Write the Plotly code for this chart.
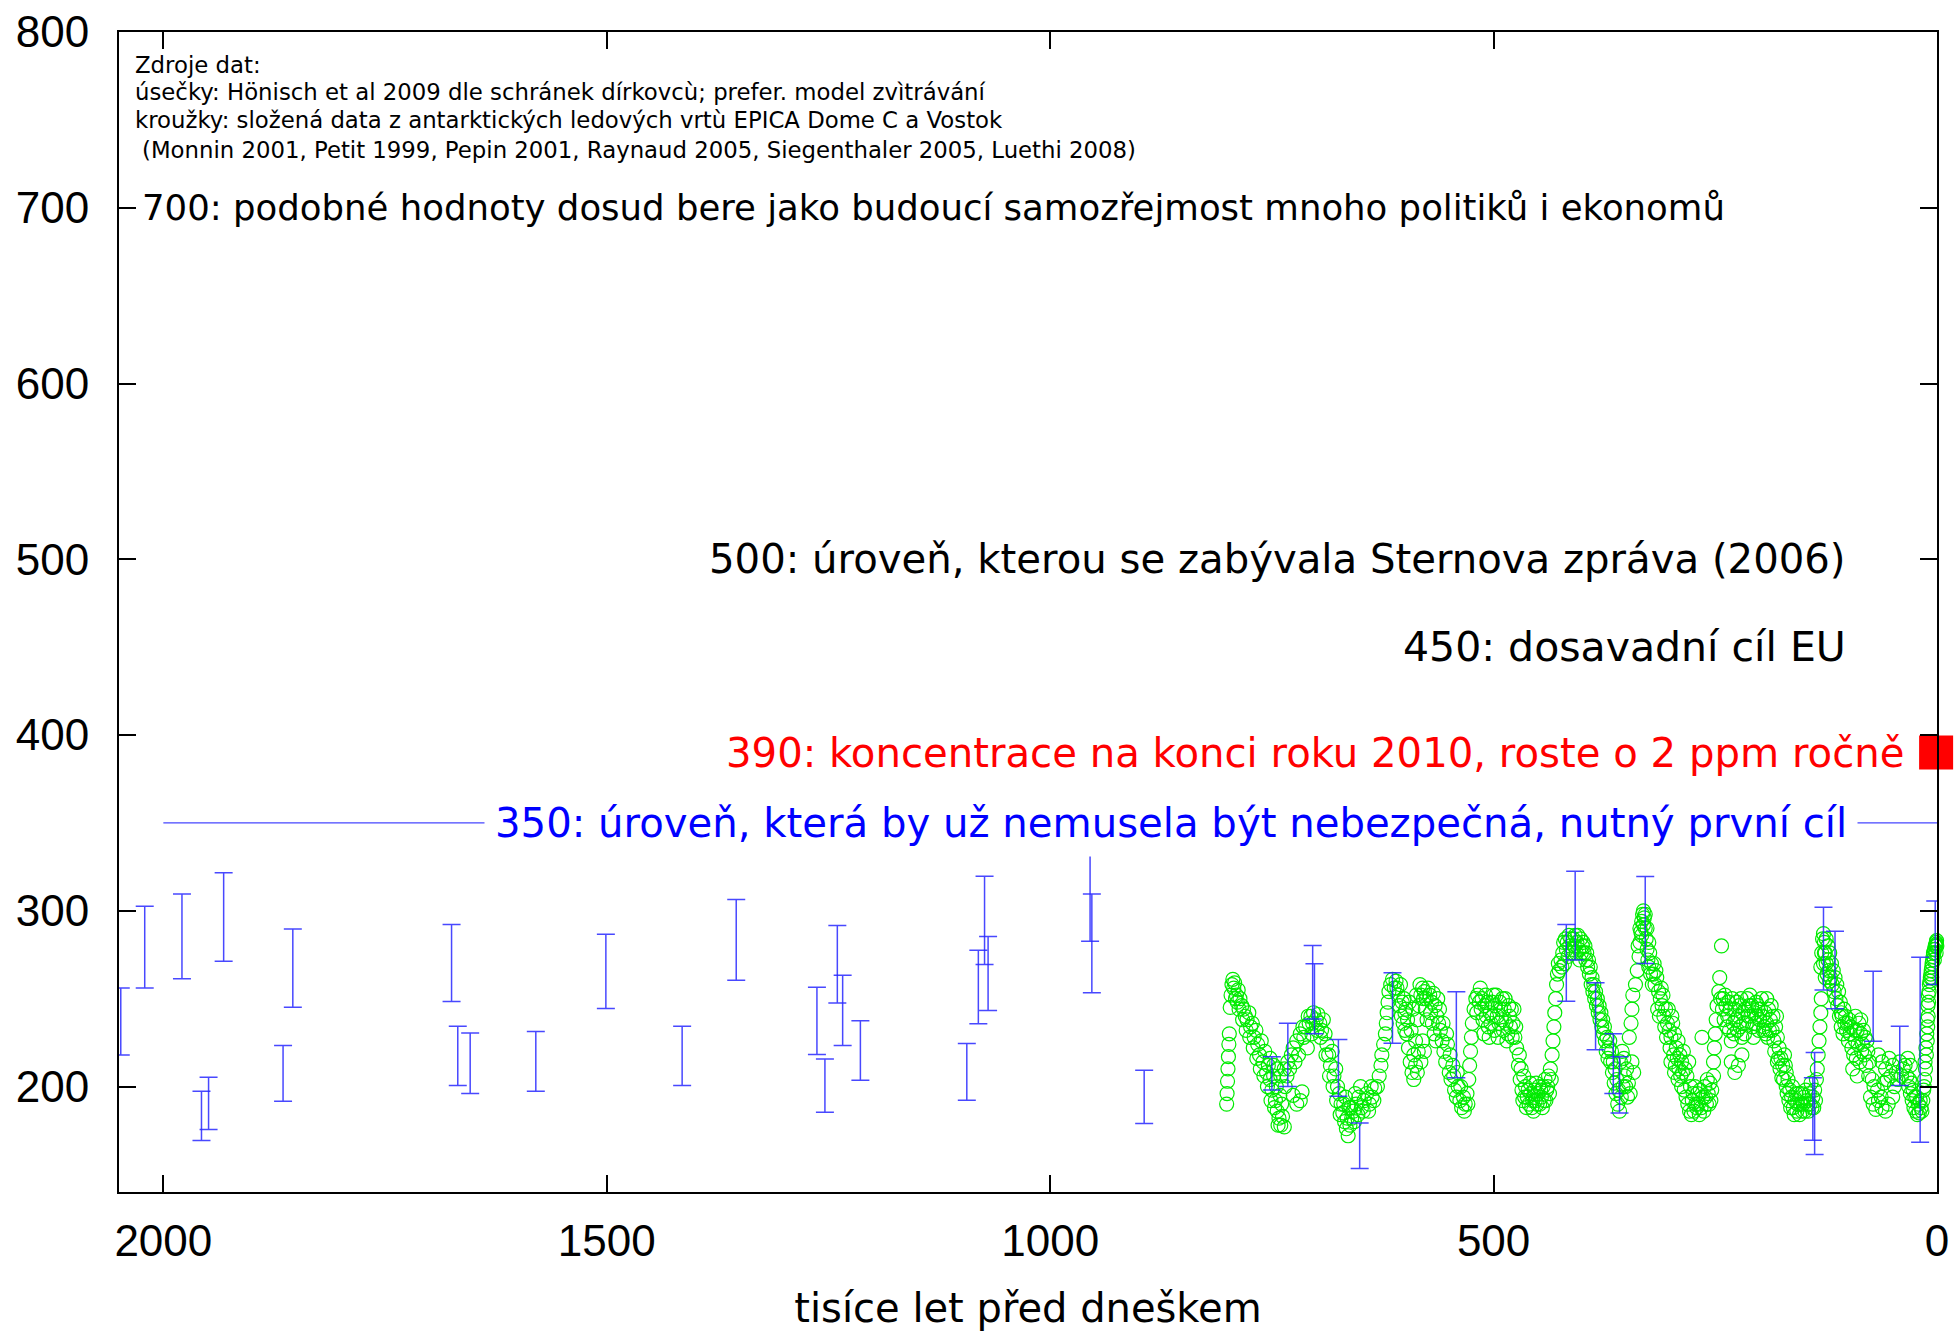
import plotly.graph_objects as go

# ---------------- data ----------------
# Hönisch et al. 2009 (boron isotopes, foraminifera): age [kyr BP], CO2 low/high [ppm]
honisch_age = [2048, 2021, 1979, 1932, 1957, 1949, 1865, 1854, 1675, 1668, 1654, 1580,
               1501, 1415, 1354, 1263, 1254, 1240, 1234, 1214, 1094, 1081, 1074, 1070,
               955, 953, 894, 750, 732, 704, 702, 675, 651, 614, 542, 418, 408, 385,
               365, 358, 329, 140, 138, 128, 115, 72, 42, 19, 2]
honisch_low = [218, 256, 261.4, 271.3, 169.3, 175.5, 191.7, 245.1, 248.4, 200.6, 196.0, 197.3,
               244.4, 200.6, 260.5, 218.2, 185.4, 247.6, 223.3, 203.6, 192.2, 235.7, 269.4, 243.2,
               282.7, 253.3, 179.0, 198, 200, 238.5, 230, 194.5, 153.3, 224.6, 205, 248.6, 272, 221,
               196, 185, 270, 169.5, 161.3, 255, 244.2, 225.8, 200.6, 168.3, 258]
honisch_high = [256, 302.6, 309.6, 321.6, 197.3, 205.3, 223.3, 289.7, 292.2, 234.3, 230.5, 231.3,
                286.7, 234.3, 306.4, 256.5, 215.7, 291.6, 263.3, 237.4, 224.5, 277.6, 319.7, 285.3,
                334.5, 309.6, 209.3, 217, 236, 280.3, 269.8, 226.7, 179.3, 264.8, 254, 292.2, 322.5, 259,
                230, 217, 319.5, 205, 219.3, 302, 288.4, 265.6, 234.3, 273.5, 305.5]

# EPICA Dome C + Vostok composite: (age kyr BP, CO2 ppm)
epica_800_600 = [
    (801, 190), (800.5, 196), (800, 203), (799.5, 210), (799, 217), (798.5, 224), (798, 230),
    (797, 245), (796, 252), (795, 258), (794, 261), (793, 256), (792, 259), (791, 250), (790, 252),
    (789, 248), (788, 255), (787, 244), (786, 250), (784, 246), (783, 238), (782, 244), (780, 240),
    (779, 232), (778, 238), (776, 242), (775, 228), (774, 234), (772, 236), (771, 222), (770, 228),
    (768, 232), (767, 216), (766, 224), (764, 218), (763, 210), (762, 226), (760, 214), (759, 206),
    (758, 220), (756, 208), (755, 200), (754, 212), (752, 204), (751, 192), (750, 198), (748, 206),
    (747, 188), (746, 192), (744, 186), (743, 178), (742, 182), (740, 178), (739, 190), (738, 183),
    (736, 177), (745, 200), (741, 195), (735, 200), (733, 206), (730, 210),
    (752, 216), (748, 212), (744, 210), (740, 206), (736, 210), (732, 214), (728, 218),
    (726, 195), (722, 190), (718, 192), (716, 197), (724, 214), (720, 218),
    (726, 222), (722, 226), (718, 230), (715, 234), (714, 228), (712, 234), (709, 240), (708, 236),
    (706, 240), (704, 236), (703, 242), (700, 238), (699, 232), (698, 241), (696, 236), (695, 228),
    (694, 232), (692, 238), (710, 222), (705, 230),
    (690, 230), (689, 218), (688, 224), (686, 218), (685, 206), (684, 212), (682, 220), (681, 200),
    (680, 206), (678, 210), (677, 192), (676, 200), (674, 196), (673, 184), (672, 190), (670, 185),
    (669, 190), (668, 180), (666, 176), (665, 182), (664, 172), (662, 178), (661, 188), (660, 182),
    (667, 194), (663, 188),
    (658, 186), (657, 180), (655, 190), (653, 184), (652, 194), (649, 188), (647, 186), (646, 192),
    (643, 196), (641, 186), (640, 190), (638, 200), (637, 194), (635, 192), (634, 199), (656, 196),
    (650, 200),
    (631, 200), (629, 206), (627, 212), (626, 218), (624, 224),
    (622, 230), (621, 236), (620, 242), (619, 248), (618, 254), (616, 258), (614, 261), (612, 256),
    (610, 260),
]
epica_610_400 = [
    (609, 256), (608, 252), (606, 246), (605, 258), (604, 240), (602, 236), (601, 250), (600, 232),
    (603, 248), (600, 242), (599, 244), (598, 230), (596, 222), (595, 248), (594, 214), (592, 208),
    (591, 244), (590, 218), (588, 226), (587, 252), (586, 238), (584, 246), (583, 258), (582, 252),
    (580, 256), (579, 250), (578, 254), (577, 244), (576, 250), (575, 238), (574, 256), (572, 252),
    (571, 242), (570, 248), (569, 236), (568, 253), (567, 230), (566, 246), (565, 226), (564, 240),
    (563, 250), (562, 236), (561, 244), (597, 238), (593, 232), (588, 212), (585, 220), (580, 226),
    (590, 204), (586, 208), (582, 214), (578, 220),
    (560, 232), (558, 226), (557, 236), (556, 220), (554, 214), (553, 230), (552, 224), (550, 208),
    (549, 218), (548, 204), (546, 212), (545, 206), (544, 198), (542, 194), (541, 208), (540, 200),
    (538, 192), (537, 200), (536, 188), (534, 194), (533, 186), (532, 190), (530, 196), (529, 190),
    (528, 204), (527, 212), (526, 220), (525, 228), (524, 236), (522, 244), (520, 250), (519, 242),
    (518, 252), (516, 248), (515, 256),
    (514, 244), (513, 250), (512, 238), (510, 246), (509, 252), (508, 240), (507, 248), (506, 234),
    (504, 242), (503, 236), (502, 248), (501, 240), (500, 252), (499, 232), (498, 246), (497, 252),
    (496, 240), (494, 236), (493, 248), (492, 244), (491, 238), (490, 250), (489, 232), (488, 244),
    (487, 250), (486, 236), (484, 230), (483, 246), (482, 240), (481, 234), (480, 244), (479, 228),
    (478, 236), (477, 244), (476, 228), (475, 234), (474, 222), (505, 228), (495, 228), (485, 226),
    (511, 230),
    (472, 212), (471, 218), (470, 204), (469, 210), (468, 198), (467, 192), (466, 206), (465, 194),
    (464, 200), (463, 188), (462, 194), (461, 198), (460, 190), (459, 202), (458, 196), (457, 188),
    (456, 192), (455, 186), (454, 198), (453, 192), (452, 202), (451, 190), (450, 196), (449, 200),
    (448, 190), (447, 198), (446, 194), (445, 188), (444, 200), (443, 192), (442, 204), (441, 192),
    (440, 198), (439, 200), (438, 206), (437, 196), (436, 210), (435, 204),
    (434, 218), (433, 226), (432, 234), (431, 242), (430, 250),
    (429, 258), (428, 264), (427, 270), (426, 266), (424, 272), (423, 268), (422, 276), (421, 282),
    (420, 270), (419, 284), (418, 278), (417, 282), (416, 274), (415, 286), (414, 280), (413, 284),
    (412, 276), (411, 278), (410, 284), (409, 280), (408, 286), (407, 276), (406, 282), (405, 286),
    (404, 278), (403, 272), (402, 284), (401, 276), (400, 280),
]
epica_400_200 = [
    (399, 282), (398, 276), (397, 280), (396, 272), (395, 276), (394, 268), (393, 272), (392, 264),
    (391, 268), (390, 258), (389, 262), (388, 254), (387, 258), (386, 250), (385, 254), (384, 246),
    (383, 250), (382, 242), (381, 246), (380, 238), (379, 242), (378, 234), (377, 238), (376, 230),
    (375, 234), (374, 226), (373, 220), (372, 228), (371, 216), (370, 222),
    (369, 226), (368, 214), (367, 220), (366, 208), (365, 214), (364, 202), (363, 210), (362, 196),
    (361, 204), (360, 190), (359, 198), (358, 186), (357, 214), (356, 194), (355, 220), (354, 200),
    (353, 216), (352, 206), (351, 200), (350, 210), (349, 194), (348, 202), (346, 196), (344, 214),
    (342, 208),
    (347, 228), (345, 236), (344, 244), (343, 252), (340, 258),
    (338, 266), (337, 280), (336, 274), (335, 282), (335, 290), (334, 288), (333, 294), (333, 286),
    (332, 298), (331, 300), (331, 292), (330, 296), (329, 290), (329, 298), (328, 284), (327, 278),
    (327, 290), (326, 272), (325, 268), (325, 282), (324, 276), (323, 264), (322, 270), (321, 258),
    (320, 264), (319, 270), (318, 258), (317, 266), (316, 262), (315, 244), (314, 254),
    (313, 240), (312, 250), (311, 256), (310, 246), (309, 252), (308, 240), (307, 234), (306, 244),
    (305, 228), (304, 236), (303, 244), (302, 232), (301, 222), (300, 228), (299, 240), (298, 236),
    (297, 218), (296, 230), (295, 212), (294, 222), (293, 216), (292, 226), (291, 210), (290, 218),
    (289, 206), (288, 214), (287, 208), (286, 220), (285, 198), (284, 210), (283, 194), (282, 206),
    (281, 190), (280, 214),
    (300, 214), (296, 208), (292, 204), (288, 200),
    (279, 186), (278, 200), (277, 184), (276, 192), (275, 196), (274, 186), (273, 200), (272, 190),
    (271, 188), (270, 196), (269, 190), (268, 184), (267, 198), (266, 188), (264, 194), (263, 186),
    (262, 200), (261, 194), (260, 190), (259, 204), (258, 196), (257, 190), (256, 202), (255, 192),
    (254, 198), (252, 206),
    (265, 228),
    (252, 214), (251, 222), (250, 230), (249, 238), (248, 246), (246, 254), (243, 280), (245, 262),
    (244, 250), (242, 244), (241, 250), (240, 238), (239, 252), (238, 246), (237, 234), (236, 240),
    (235, 248), (234, 232), (233, 244), (232, 226), (231, 250), (230, 236), (229, 230), (228, 244),
    (227, 238), (226, 248), (225, 232), (224, 240), (223, 246), (222, 234), (221, 250), (220, 228),
    (219, 242), (218, 236), (217, 230), (216, 244), (215, 236), (214, 250), (213, 240), (212, 246),
    (211, 252), (210, 240), (209, 246), (208, 234), (207, 228), (206, 242), (205, 236), (204, 248),
    (203, 240), (202, 244), (201, 232), (200, 238),
    (232, 214), (228, 208), (224, 212), (220, 218),
]
epica_200_0 = [
    (199, 244), (198, 250), (197, 240), (196, 232), (195, 234), (194, 242), (193, 230), (192, 236),
    (191, 228), (190, 244), (189, 232), (188, 238), (187, 246), (186, 232), (185, 240), (184, 226),
    (183, 220), (182, 234), (181, 240), (180, 228), (192, 250), (202, 246),
    (179, 216), (178, 222), (177, 210), (176, 216), (174, 212), (173, 204), (172, 218), (171, 212),
    (170, 208), (169, 196), (168, 204),
    (167, 192), (166, 198), (165, 188), (164, 194), (163, 200), (162, 188), (161, 184), (160, 192),
    (159, 196), (158, 186), (157, 190), (156, 196), (155, 184), (154, 190), (153, 196), (152, 186),
    (151, 190), (150, 194), (149, 186), (148, 198), (147, 192), (146, 190), (145, 186), (144, 196),
    (143, 190), (142, 202), (141, 188), (140, 194), (139, 188), (138, 198), (137, 192), (136, 204),
    (175, 205), (170, 200), (180, 214),
    (135, 210), (134, 218), (133, 226), (132, 234), (131, 242), (130.5, 250),
    (131, 268), (130, 276), (129, 284), (128, 287), (127, 282), (127, 276), (126, 276), (125, 270),
    (125, 284), (124, 264), (123, 272), (123, 280), (122, 266), (121, 260), (121, 276), (126, 262),
    (128, 270),
    (120, 262), (119, 270), (118, 258), (117, 266), (116, 254), (115, 262), (114, 250), (113, 258),
    (112, 246), (111, 254), (109, 248), (108, 242), (107, 240), (105, 244),
    (110, 240), (108, 234), (106, 230), (104, 236), (103, 240), (102, 232), (101, 236),
    (100, 226), (99, 238), (98, 230), (97, 234), (96, 222), (95, 210), (94, 218), (93, 232),
    (92, 240), (92, 226), (91, 216), (90, 232), (90, 206), (89, 224), (88, 236), (87, 214),
    (86, 238), (86, 230), (85, 220), (84, 224), (83, 232), (82, 218), (81, 228), (80, 212),
    (79, 226), (78, 220), (77, 206), (76, 214),
    (75, 194), (73, 204), (72, 190), (71, 200), (69, 187), (67, 198), (66, 192), (63, 194),
    (62, 188), (60, 202), (58, 186), (56, 204), (55, 190), (52, 206), (50, 194), (48, 200),
    (66, 218), (62, 214), (58, 210), (54, 216), (50, 212), (46, 208), (44, 204), (42, 214),
    (40, 206), (38, 210), (36, 212), (34, 206), (33, 216), (31, 204), (30, 212),
    (32, 200), (30, 196), (29, 202), (28, 192), (26, 188), (25, 194), (24, 186), (22, 184),
    (21, 190), (20, 185), (19, 192), (18, 188), (17, 186), (16, 192), (27, 198), (23, 194),
    (15, 198), (14.5, 200), (14, 204), (13.5, 214), (13, 210), (12.5, 222), (12, 218),
    (11.5, 230), (11, 226), (10.8, 238), (10.5, 234), (10.2, 246), (10, 240), (9.8, 252),
    (9.5, 248), (9, 254), (8.5, 258),
    (8, 260), (7.5, 262), (7, 264), (6.5, 266), (6, 268), (5.5, 270), (5, 272), (4.5, 274),
    (4, 276), (3.5, 276), (3, 278), (2.5, 278), (2, 280), (1.5, 280), (1, 282), (0.8, 281),
    (0.5, 283), (0.2, 280), (6, 262), (3, 272), (1, 276),
]

current_age = [1]
current_co2 = [390]
safe_level = 350
safe_span = [2000, 0]

x_ticks = [0, 500, 1000, 1500, 2000]
y_ticks = [200, 300, 400, 500, 600, 700, 800]

source_lines = [
    "Zdroje dat:",
    "úsečky: Hönisch et al 2009 dle schránek dírkovcù; prefer. model zvìtrávání",
    "kroužky: složená data z antarktických ledových vrtù EPICA Dome C a Vostok",
    "(Monnin 2001, Petit 1999, Pepin 2001, Raynaud 2005, Siegenthaler 2005, Luethi 2008)",
]
source_y = [781, 766, 750, 733]
level_texts = [
    "700: podobné hodnoty dosud bere jako budoucí samozřejmost mnoho politiků i ekonomů",
    "500: úroveň, kterou se zabývala Sternova zpráva (2006)",
    "450: dosavadní cíl EU",
    "390: koncentrace na konci roku 2010, roste o 2 ppm ročně",
    "350: úroveň, která by už nemusela být nebezpečná, nutný první cíl",
]

# ---------------- figure ----------------
epica = epica_800_600 + epica_610_400 + epica_400_200 + epica_200_0
ep_x = [p[0] for p in epica]
ep_y = [p[1] for p in epica]

mid = [(lo + hi) / 2 for lo, hi in zip(honisch_low, honisch_high)]
err = [(hi - lo) / 2 for lo, hi in zip(honisch_low, honisch_high)]

fig = go.Figure()

fig.add_trace(go.Scatter(
    x=safe_span, y=[safe_level, safe_level], mode="lines",
    line=dict(color="rgb(70,70,255)", width=1.3), hoverinfo="skip"))

fig.add_trace(go.Scatter(
    x=ep_x, y=ep_y, mode="markers", cliponaxis=False,
    marker=dict(symbol="circle-open", size=14, color="rgb(0,235,0)",
                line=dict(width=1.2, color="rgb(0,235,0)"))))

fig.add_trace(go.Scatter(
    x=honisch_age, y=mid, mode="markers",
    marker=dict(size=1, color="rgba(0,0,0,0)"),
    error_y=dict(type="data", symmetric=False, array=err, arrayminus=err,
                 color="rgba(40,40,255,0.85)", thickness=1.5, width=9)))

fig.add_trace(go.Scatter(
    x=current_age, y=current_co2, mode="markers", cliponaxis=False,
    marker=dict(symbol="square", size=34, color="rgb(255,0,0)")))

ann_font = "DejaVu Sans, Liberation Sans, Arial"
annotations = []
for txt, yv in zip(source_lines, source_y):
    annotations.append(dict(
        x=2034 if not txt.startswith("(") else 2026, y=yv, xref="x", yref="y",
        text=txt, showarrow=False, xanchor="left", yanchor="middle",
        font=dict(family=ann_font, size=22.8, color="black")))

annotations.append(dict(x=2026, y=700, xref="x", yref="y", text=level_texts[0],
                        showarrow=False, xanchor="left", yanchor="middle",
                        font=dict(family=ann_font, size=35.5, color="black")))
annotations.append(dict(x=100, y=500, xref="x", yref="y", text=level_texts[1],
                        showarrow=False, xanchor="right", yanchor="middle",
                        font=dict(family=ann_font, size=40.2, color="black")))
annotations.append(dict(x=100, y=450, xref="x", yref="y", text=level_texts[2],
                        showarrow=False, xanchor="right", yanchor="middle",
                        font=dict(family=ann_font, size=41, color="black")))
annotations.append(dict(x=35, y=390, xref="x", yref="y", text=level_texts[3],
                        showarrow=False, xanchor="right", yanchor="middle",
                        font=dict(family=ann_font, size=40.2, color="rgb(255,0,0)")))
annotations.append(dict(x=89, y=350, xref="x", yref="y", text=level_texts[4],
                        showarrow=False, xanchor="right", yanchor="middle",
                        bgcolor="white", borderpad=10,
                        font=dict(family=ann_font, size=40.2, color="rgb(0,0,255)")))

axis_common = dict(
    ticks="inside", ticklen=17, tickwidth=1.5, tickcolor="black",
    showline=True, linecolor="black", linewidth=2, mirror="ticks",
    showgrid=False, zeroline=False, automargin=False,
    tickfont=dict(family="Liberation Sans, Arial", size=44, color="black"),
)

fig.update_layout(
    width=1959, height=1331,
    margin=dict(l=119, r=22, t=32, b=139),
    paper_bgcolor="white", plot_bgcolor="white",
    showlegend=False,
    annotations=annotations,
    xaxis=dict(range=[2050, 0], tickmode="array", tickvals=x_ticks,
               ticktext=[str(v) for v in x_ticks], ticklabelstandoff=9,
               title=dict(text="tisíce let před dneškem", standoff=31,
                          font=dict(family=ann_font, size=40, color="black")),
               **axis_common),
    yaxis=dict(range=[140, 800], tickmode="array", tickvals=y_ticks,
               ticktext=[str(v) for v in y_ticks], ticklabelstandoff=19,
               **axis_common),
)

fig.write_html("out.html", config={"displayModeBar": False},
               post_script="document.body.style.margin='0';document.body.style.overflow='hidden';")
